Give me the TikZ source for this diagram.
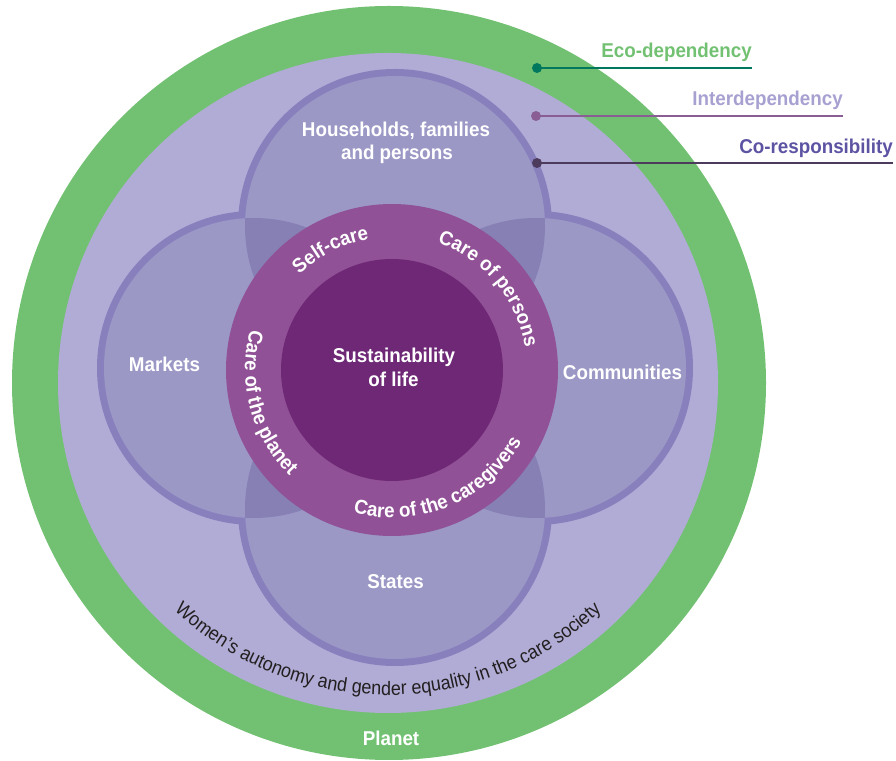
\documentclass[tikz,border=0pt]{standalone}
\usepackage{fontspec}
\setmainfont{Liberation Sans}
\newfontfamily\cond[FakeStretch=0.94]{Liberation Sans}
\newfontfamily\condlight[FakeStretch=0.92]{Liberation Sans}
\usetikzlibrary{decorations.text}
\definecolor{cgreen}{HTML}{72C172}
\definecolor{clav}{HTML}{B0ACD5}
\definecolor{cpetal}{HTML}{9B98C6}
\definecolor{cstroke}{HTML}{8880BD}
\definecolor{clens}{HTML}{8780B5}
\definecolor{cring}{HTML}{915196}
\definecolor{cinner}{HTML}{6E2876}
\definecolor{ecoline}{HTML}{00785E}
\definecolor{interline}{HTML}{8A5E95}
\definecolor{coline}{HTML}{4C3B5D}
\definecolor{intertext}{HTML}{A7A1D1}
\definecolor{cotext}{HTML}{5C53A3}
\definecolor{darktext}{HTML}{231F20}
\newcommand\bfl{\cond\bfseries\fontsize{20}{24}\selectfont}
\newcommand\wfont{\condlight\fontsize{19.5}{22}\selectfont}
\begin{document}
\begin{tikzpicture}[x=1pt,y=1pt,
  lbl/.style={font=\bfl, text=white, inner sep=0pt, anchor=base},
  callout/.style={font=\bfl, inner sep=0pt, anchor=base east},
  dotnode/.style={circle, fill, minimum size=10pt, inner sep=0pt},
  leader/.style={line width=2pt},
  ringtext/.style={decorate, decoration={text along path, text align=center, text color=white, text={|\bfl|#1}}},
  womtext/.style={decorate, decoration={text along path, text align=center, text color=darktext, text={|\wfont|#1}}}]
\useasboundingbox (0,0) rectangle (896,760);
% centres
\coordinate (G) at (389,377);
\coordinate (L) at (388,377);
\coordinate (H) at (395,534);
\coordinate (M) at (254,392);
\coordinate (C) at (536,392);
\coordinate (S) at (395,251);
\coordinate (R) at (392,390);
% planet and society
\fill[cgreen] (G) circle (377pt);
\fill[clav] (L) circle (330pt);
% petals
\foreach \c in {H,M,C,S} \fill[cstroke] (\c) circle (157pt);
\foreach \c in {H,M,C,S} \fill[cpetal] (\c) circle (150pt);
\foreach \a/\b in {H/M,H/C,S/M,S/C}{
  \begin{scope}
    \clip (\a) circle (150pt);
    \fill[clens] (\b) circle (150pt);
  \end{scope}}
% care ring and core
\fill[cring] (R) circle (166pt);
\fill[cinner] (R) circle (111pt);
% curved texts
\path[ringtext={Self-care}] ([shift={(180:133pt)}]R) arc[start angle=180, end angle=54, radius=133pt];
\path[ringtext={Care of persons}] ([shift={(110:135pt)}]R) arc[start angle=110, end angle=-30, radius=135pt];
\path[ringtext={Care of the planet}] ([shift={(130:147pt)}]R) arc[start angle=130, end angle=260, radius=147pt];
\path[ringtext={Care of the caregivers}] ([shift={(230:148pt)}]R) arc[start angle=230, end angle=356, radius=148pt];
\path[womtext={Women’s autonomy and gender equality in the care society}] ([shift={(200:312pt)}]L) arc[start angle=200, end angle=340, radius=312pt];
% labels
\node[lbl] (hh1) at (396,623) {Households, families};
\node[lbl] (hh2) at (397,600.5) {and persons};
\node[lbl] (mk) at (164.5,388) {Markets};
\node[lbl] (cm) at (622.5,380) {Communities};
\node[lbl] (st) at (395.5,171) {States};
\node[lbl] (su1) at (394,397) {Sustainability};
\node[lbl] (su2) at (393.5,373) {of life};
\node[lbl] (pl) at (391,15) {Planet};
% callouts
\node[callout, text=cgreen] (eco) at (752,702) {Eco-dependency};
\node[callout, text=intertext] (inter) at (843,654) {Interdependency};
\node[callout, text=cotext] (co) at (893,606) {Co-responsibility};
\node[dotnode, ecoline] (d1) at (537,692) {};
\node[dotnode, interline] (d2) at (536,644) {};
\node[dotnode, coline] (d3) at (537,597) {};
\coordinate (e1) at (752,692);
\coordinate (e2) at (843,644);
\coordinate (e3) at (893,597);
\draw[leader, ecoline] (d1.center) -- (e1);
\draw[leader, interline] (d2.center) -- (e2);
\draw[leader, coline] (d3.center) -- (e3);
\end{tikzpicture}
\end{document}
